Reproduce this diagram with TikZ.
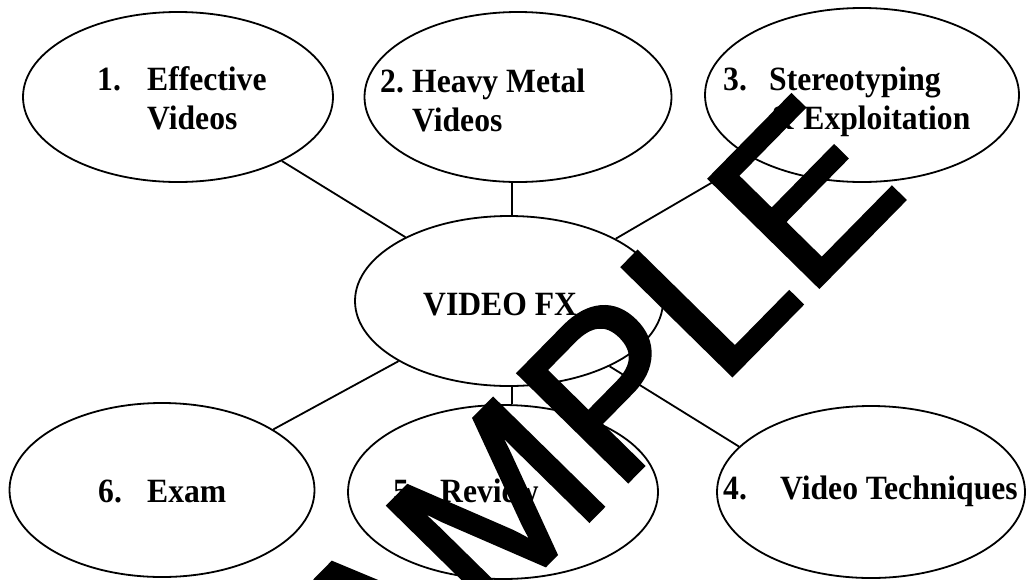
\documentclass[tikz,border=0pt]{standalone}
\usepackage{fontspec}
\newfontfamily\lblfont{Liberation Serif}[FakeStretch=0.93]
\newfontfamily\wmfont{Liberation Sans}
\usetikzlibrary{shapes.geometric}

% number in a fixed-width box, then the words; second line indented to the same tab
\newcommand\twoline[4]{\begin{tabular}[t]{@{}l@{}}\makebox[#1][l]{#2}#3\\\hspace*{#1}#4\end{tabular}}
\newcommand\oneline[3]{\makebox[#1][l]{#2}#3}
% glyphs filled and outlined, for a heavier monoline stamp
\newcommand\heavytext[1]{\special{pdf:literal 2 Tr 4 w}#1\special{pdf:literal 0 Tr}}

\tikzset{
  bubble/.style 2 args={ellipse, draw, line width=1.8pt, inner sep=0pt,
    minimum width=#1, minimum height=#2},
  link/.style={line width=1.8pt},
  lbl/.style={anchor=base west, inner sep=0pt,
    font=\lblfont\bfseries\fontsize{34}{39}\selectfont},
  stamp/.style={inner sep=0pt, rotate=45.5,
    font=\wmfont\fontsize{223}{223}\selectfont}
}

\begin{document}
\begin{tikzpicture}[x=1pt,y=-1pt]
\useasboundingbox (0,0) rectangle (1028,579);
\clip (0,0) rectangle (1028,579);

% topic bubbles
\node[bubble={310pt}{170pt}] (e1) at (178,97) {};
\node[bubble={307pt}{170pt}] (e2) at (518,97) {};
\node[bubble={314pt}{174pt}] (e3) at (862,95) {};
\node[bubble={308pt}{170pt}] (c)  at (509,301) {};
\node[bubble={305pt}{174pt}] (e6) at (162,490) {};
\node[bubble={310pt}{174pt}] (e5) at (503,492) {};
\node[bubble={308pt}{172pt}] (e4) at (871,492) {};

% spokes from the hub
\draw[link] (c) -- (e1);
\draw[link] (c.88) -- (c.88 |- e2.south);
\draw[link] (c) -- (e3);
\draw[link] (c) -- (e6);
\draw[link] (c.-88) -- (c.-88 |- e5.north);
\draw[link] (c.-33) -- (e4.161);

% labels
\node[lbl] (t1) at (97,90)  {\twoline{50pt}{1.}{Effective}{Videos}};
\node[lbl] (t2) at (380,92) {\twoline{32pt}{2.}{Heavy Metal}{Videos}};
\node[lbl] (t3) at (723,90) {\twoline{46pt}{3.}{Stereotyping}{\& Exploitation}};
\node[lbl] (tc) at (423,315) {VIDEO FX};
\node[lbl] (t6) at (98,502) {\oneline{49pt}{6.}{Exam}};
\node[lbl] (t5) at (393,502) {\oneline{47pt}{5.}{Review}};
\node[lbl] (t4) at (723,499) {\oneline{57pt}{4.}{Video Techniques}};

% overprinted stamp
\node[stamp] (wm) at (539,462) {\heavytext{SAMPLE}};
\end{tikzpicture}
\end{document}
